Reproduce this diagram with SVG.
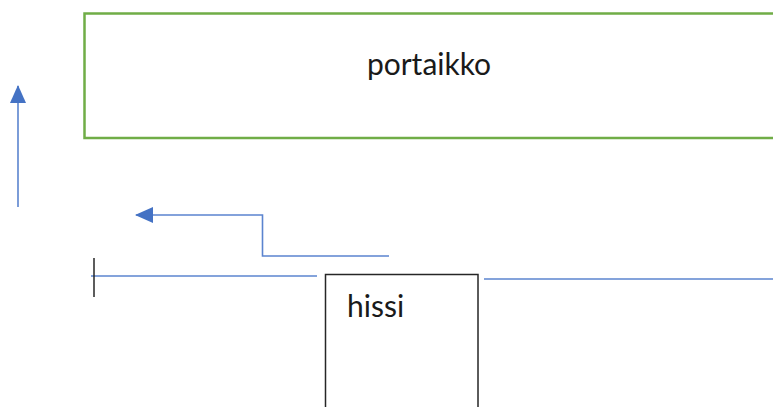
<svg xmlns="http://www.w3.org/2000/svg" width="773" height="407" viewBox="0 0 773 407">
<style>
.lbl{font-family:Lato,"Open Sans","Liberation Sans",sans-serif;font-size:30px;fill:#1a1a1a}
.conn{fill:none;stroke:#5b84cf;stroke-width:1.6}
</style>
<defs>
<marker id="ahbig" viewBox="0 0 18 16" refX="17" refY="8" markerWidth="18" markerHeight="16" markerUnits="userSpaceOnUse" orient="auto">
<path d="M0,0 L18,8 L0,16 Z" fill="#4472c4"/>
</marker>
</defs>
<rect width="773" height="407" fill="#ffffff"/>
<g id="portaikko">
<rect x="84.5" y="13.5" width="700" height="124.5" fill="#ffffff" stroke="#70ad47" stroke-width="2.5"/>
<text class="lbl" x="429" y="75" text-anchor="middle">portaikko</text>
</g>
<g id="hissi">
<rect x="325.5" y="274.5" width="152.5" height="140" fill="#ffffff" stroke="#262626" stroke-width="1.5"/>
<text class="lbl" x="347" y="317">hissi</text>
</g>
<g id="connectors">
<line class="conn" x1="18" y1="207" x2="18" y2="86" marker-end="url(#ahbig)"/>
<polyline class="conn" points="389,256 262.5,256 262.5,215 136,215" marker-end="url(#ahbig)"/>
<line class="conn" x1="91" y1="276" x2="317" y2="276"/>
<line x1="94" y1="258" x2="94" y2="297" stroke="#262626" stroke-width="1.5"/>
<line class="conn" x1="484" y1="279" x2="773" y2="279"/>
</g>
</svg>
